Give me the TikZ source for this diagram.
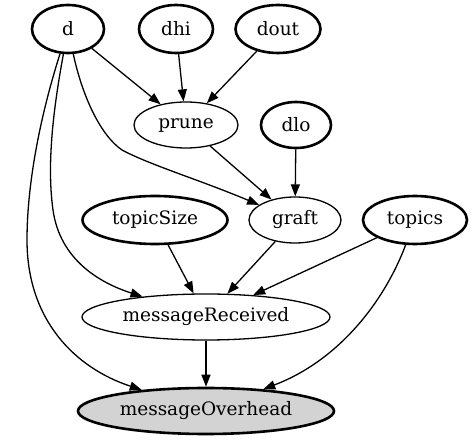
\documentclass[tikz,border=0pt]{standalone}
\usepackage{fontspec}
\setmainfont{DejaVu Serif}
\usetikzlibrary{shapes.geometric,arrows.meta}
\tikzset{
  gnode/.style={ellipse,draw,inner sep=0pt,line width=1.3pt,font=\fontsize{18.5}{20}\selectfont},
  bold/.style={line width=2.6pt},
  arr/.style={-{Triangle[length=12pt,width=9pt]},line width=1.3pt}
}
\begin{document}
\begin{tikzpicture}[x=1pt,y=-1pt]
\useasboundingbox (0,0) rectangle (472,443);
\node[gnode,bold,minimum width=72pt,minimum height=48pt] (d) at (68,29) {d};
\node[gnode,bold,minimum width=74pt,minimum height=48pt] (dhi) at (176,29) {dhi};
\node[gnode,bold,minimum width=85pt,minimum height=48pt] (dout) at (278,29) {dout};
\node[gnode,minimum width=104pt,minimum height=46pt] (prune) at (186,125) {prune};
\node[gnode,bold,minimum width=70pt,minimum height=46pt] (dlo) at (296,125) {dlo};
\node[gnode,bold,minimum width=145pt,minimum height=48pt] (topicSize) at (155,220) {topicSize};
\node[gnode,minimum width=92pt,minimum height=46pt] (graft) at (295,220) {graft};
\node[gnode,bold,minimum width=104pt,minimum height=48pt] (topics) at (415,220) {topics};
\node[gnode,minimum width=248pt,minimum height=46pt] (mr) at (206,317) {messageReceived};
\node[gnode,bold,fill={rgb,255:red,211;green,211;blue,211},minimum width=256pt,minimum height=46pt] (mo) at (206,411) {messageOverhead};

\draw[arr] (d) -- (prune);
\draw[arr] (dhi) -- (prune);
\draw[arr] (dout) -- (prune);
\draw[arr] (prune) -- (graft);
\draw[arr] (dlo) -- (graft);
\draw[arr] (d) .. controls (82,95) and (100,135) .. (122,150) .. controls (150,165) and (200,180) .. (graft);
\draw[arr] (d) .. controls (55,100) and (46,160) .. (53,210) .. controls (60,260) and (100,283) .. (mr);
\draw[arr] (d) .. controls (42,110) and (27,180) .. (27,240) .. controls (27,320) and (75,368) .. (mo);
\draw[arr] (topicSize) -- (mr);
\draw[arr] (graft) -- (mr);
\draw[arr] (topics) -- (mr);
\draw[arr] (topics) .. controls (385,300) and (340,360) .. (mo);
\draw[arr] (mr) -- (mo);
\end{tikzpicture}
\end{document}
